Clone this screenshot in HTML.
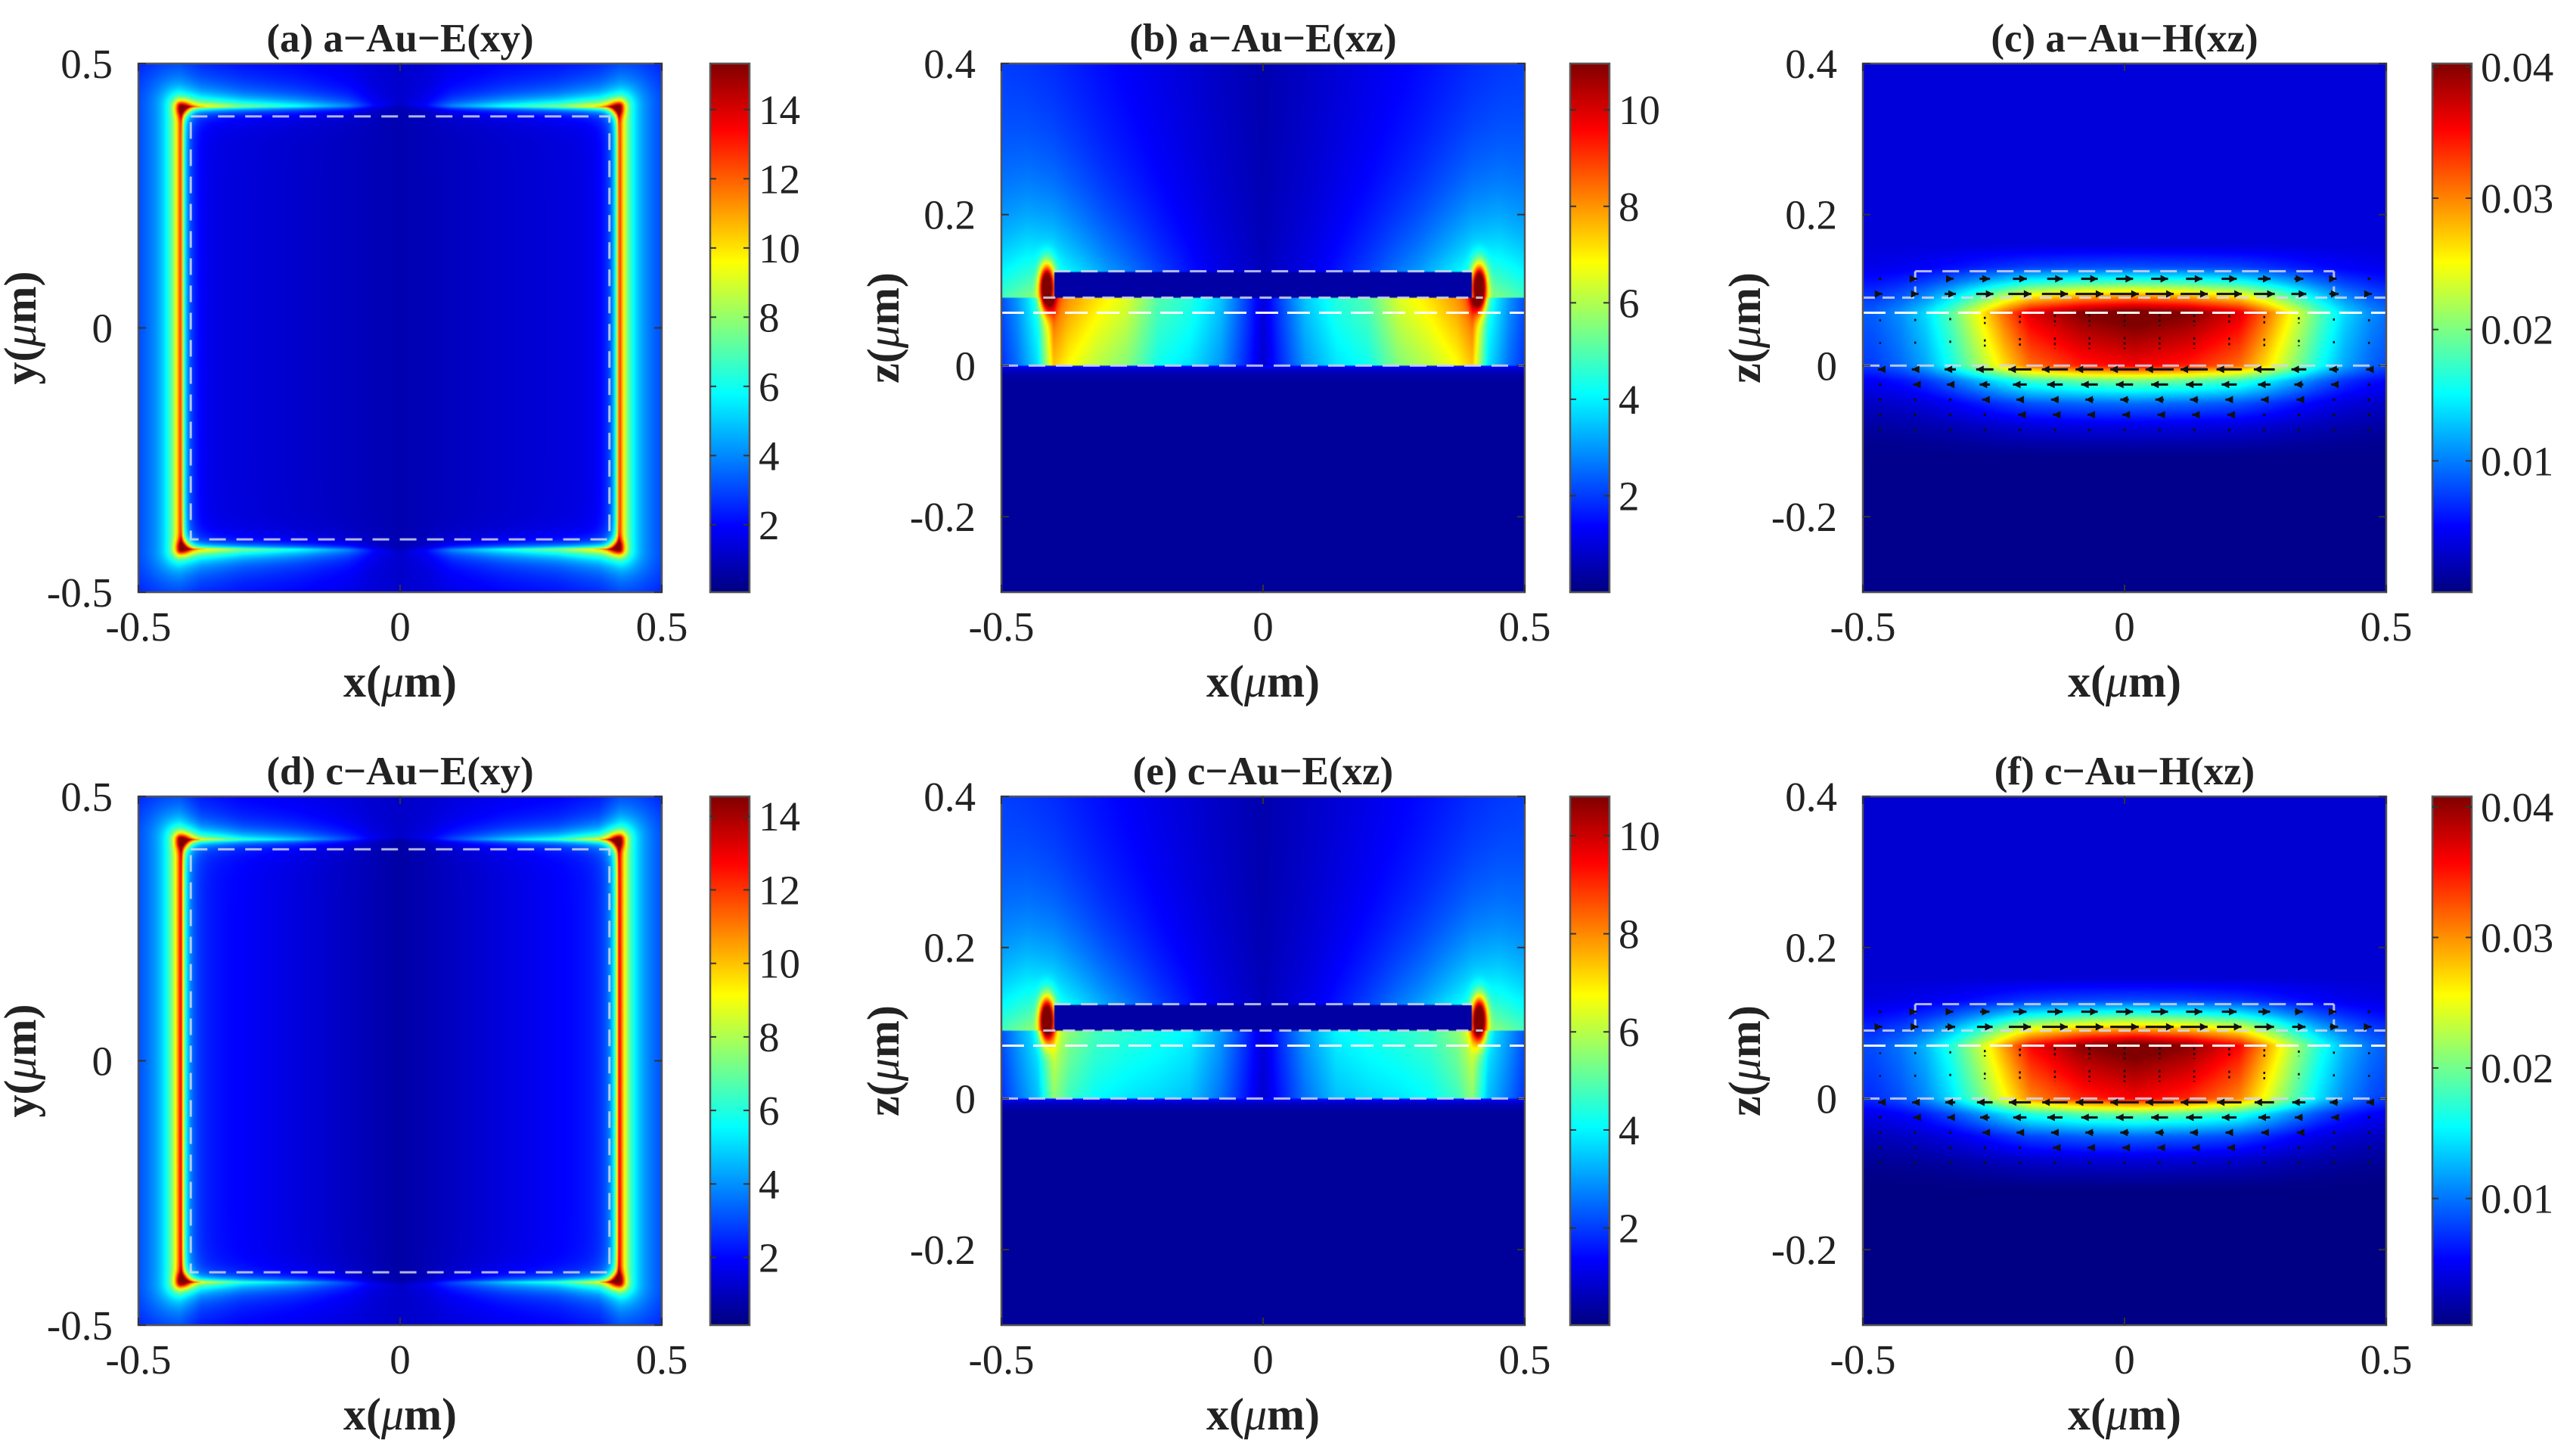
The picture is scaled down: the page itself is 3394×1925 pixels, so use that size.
<!DOCTYPE html>
<html><head><meta charset="utf-8">
<style>
html,body{margin:0;padding:0;background:#fff;}
#root{position:relative;width:3394px;height:1925px;overflow:hidden;background:#fff;}
canvas{position:absolute;}
svg{position:absolute;left:0;top:0;}
</style></head>
<body>
<div id="root"></div>
<script>
// ---- data ----
const xyTicks=[-0.5,0,0.5];
const xzTicksY=[-0.2,0,0.2,0.4];
const xTicks=[-0.5,0,0.5];
const cbTicksExy=[2,4,6,8,10,12,14];
const cbTicksExz=[2,4,6,8,10];
const cbTicksH=[0.01,0.02,0.03,0.04];
const cbMin=[0.05,0,0,0.16,0.02,0.0003];
const cbMax=[15.33,10.96,0.04025,14.54,10.8,0.0408];
const titles=["(a) a\u2212Au\u2212E(xy)","(b) a\u2212Au\u2212E(xz)","(c) a\u2212Au\u2212H(xz)","(d) c\u2212Au\u2212E(xy)","(e) c\u2212Au\u2212E(xz)","(f) c\u2212Au\u2212H(xz)"];
const edgeWeightX=[0,0.05,0.1,0.2,0.3,0.38,0.42];
const edgeWeightA=[0,0.08,0.25,0.42,0.55,0.75,1];
const edgeWeightD=[0,0.05,0.15,0.3,0.4,0.6,1];
const spacerX=[0,0.03,0.08,0.14,0.2,0.26,0.32,0.37,0.40,0.43,0.47,0.5];
const spacerB=[1,2,3.5,4.5,5,6.5,7.2,8,8.8,4.5,3,2.2];
const spacerE=[1,1.8,3,4,4.3,4.5,4.8,5.5,6.5,4,3,2.2];
const hProfX=[0,0.1,0.2,0.25,0.3,0.35,0.4,0.45,0.5];
const hProfC=[1,0.96,0.86,0.72,0.56,0.4,0.27,0.19,0.14];
const hProfF=[1,0.95,0.83,0.67,0.5,0.35,0.24,0.17,0.13];
const hProfZ=[-0.12,-0.08,-0.05,-0.02,0,0.07,0.09,0.11,0.13,0.16];
const hProfZv=[0,0.08,0.2,0.45,0.85,1,0.7,0.38,0.12,0];
const hPeak=[0.0385,0.039];
const quiverX=[-0.467,-0.4,-0.333,-0.267,-0.2,-0.133,-0.067,0,0.067,0.133,0.2,0.267,0.333,0.4,0.467];
const quiverZ=[0.115,0.095,0.06,0.03,-0.005,-0.025,-0.045,-0.065,-0.085];
const quiverU=[0.6,1,0,0,-1,-0.6,-0.3,-0.15,-0.08];

// ---- layout ----
const panelLefts=[183,1324,2463], rowTops=[84,1053], PW=692, PH=699;
const cbLefts=[939,2076,3216], CBW=52;
const FONT='"Liberation Serif", "Times New Roman", serif';
const root=document.getElementById('root');
const NS='http://www.w3.org/2000/svg';
const svg=document.createElementNS(NS,'svg');
svg.setAttribute('width','3394');svg.setAttribute('height','1925');



function interp(xs,vs,x){
  if(x<=xs[0])return vs[0];
  for(let i=1;i<xs.length;i++){ if(x<=xs[i]){const t=(x-xs[i-1])/(xs[i]-xs[i-1]);return vs[i-1]+t*(vs[i]-vs[i-1]);} }
  return vs[vs.length-1];
}
function cl(v){return v<0?0:v>1?1:v;}
function jet(t){t=cl(t);return [cl(1.5-Math.abs(4*t-3)),cl(1.5-Math.abs(4*t-2)),cl(1.5-Math.abs(4*t-1))];}
function sq(v){return v*v;}

function fieldXY(x,y,variant){
  const hs=0.42, ax=Math.abs(x), ay=Math.abs(y);
  const wArr=variant?edgeWeightD:edgeWeightA;
  const wH=interp(edgeWeightX,wArr,ax);
  let v;
  if(ax<hs&&ay<hs){
    const dv=hs-ax, dh=hs-ay;
    const base=variant?(0.7+1.6*ax/0.4):(0.8+0.8*ax/0.4);
    v=base+10*Math.exp(-dv/0.006)+3.5*Math.exp(-dv/0.018)+wH*(10*Math.exp(-dh/0.006)+3.5*Math.exp(-dh/0.018));
  } else {
    const dx=Math.max(ax-hs,0), dy=Math.max(ay-hs,0);
    let w=1, d;
    if(ay<hs){d=dx;} else if(ax<hs){d=dy;w=wH;} else {d=Math.hypot(dx,dy);}
    v=1.2+w*(7*Math.exp(-d/0.015)+4.5*Math.exp(-d/0.09));
  }
  v+=4*Math.exp(-(sq(ax-0.415)+sq(ay-0.415))/0.0002);
  return v;
}
function fieldXZ(x,z,variant){
  const ax=Math.abs(x);
  const spv=variant?spacerE:spacerB;
  let v;
  const inBar=(ax<0.4&&z>=0.09&&z<=0.125);
  if(z<0){ v=0.3+1.3*Math.exp(z/0.006); }
  else if(inBar){ v=0.4; }
  else if(z<0.09){ v=interp(spacerX,spv,ax)*(0.85+0.15*z/0.09); }
  else {
    const k=interp([0,0.1,0.2,0.3,0.4,0.45,0.5],[0.2,0.6,1.4,2.4,3.8,3.8,3],ax);
    v=0.5+1.3*(ax/0.5)+k*Math.exp(-(z-0.09)/0.12);
  }
  if(!inBar&&z>=0){
    v+=9*Math.exp(-sq((ax-0.413)/0.014)-sq((z-0.105)/0.028));
  }
  return v;
}
function fieldH(x,z,variant){
  const px=interp(hProfX,variant?hProfF:hProfC,Math.abs(x-0.02));
  const pz=interp(hProfZ,hProfZv,z);
  const bg=interp([-0.1,0,0.1],[0.0005,0.0028,0.0036],z);
  return bg+hPeak[variant]*px*pz;
}

function addText(str,x,y,size,opts){
  const t=document.createElementNS(NS,'text');
  t.setAttribute('x',x);t.setAttribute('y',y);
  t.setAttribute('font-size',size);
  t.setAttribute('font-family',FONT);
  t.setAttribute('fill','#222');
  if(opts&&opts.bold)t.setAttribute('font-weight','bold');
  t.setAttribute('text-anchor',(opts&&opts.anchor)||'middle');
  t.textContent=str;
  svg.appendChild(t);
  return t;
}
function addLine(x1,y1,x2,y2,stroke,w,dash){
  const l=document.createElementNS(NS,'line');
  l.setAttribute('x1',x1);l.setAttribute('y1',y1);l.setAttribute('x2',x2);l.setAttribute('y2',y2);
  l.setAttribute('stroke',stroke);l.setAttribute('stroke-width',w);
  if(dash)l.setAttribute('stroke-dasharray',dash);
  svg.appendChild(l);return l;
}
function addAxisLabel(prefix,x,y,rot){
  const t=document.createElementNS(NS,'text');
  t.setAttribute('x',x);t.setAttribute('y',y);
  t.setAttribute('font-size',60);t.setAttribute('font-weight','bold');
  t.setAttribute('font-family',FONT);
  t.setAttribute('fill','#222');
  t.setAttribute('text-anchor','middle');
  if(rot)t.setAttribute('transform','rotate(-90 '+x+' '+y+')');
  const s1=document.createElementNS(NS,'tspan');s1.textContent=prefix+'(';
  const s2=document.createElementNS(NS,'tspan');s2.setAttribute('font-style','italic');s2.setAttribute('font-weight','normal');s2.textContent='\u03bc';
  const s3=document.createElementNS(NS,'tspan');s3.textContent='m)';
  t.appendChild(s1);t.appendChild(s2);t.appendChild(s3);
  svg.appendChild(t);return t;
}

// gradient def
const defs=document.createElementNS(NS,'defs');
const grad=document.createElementNS(NS,'linearGradient');
grad.setAttribute('id','jet');grad.setAttribute('x1','0');grad.setAttribute('y1','1');grad.setAttribute('x2','0');grad.setAttribute('y2','0');
[[0,'#000080'],[0.125,'#0000ff'],[0.375,'#00ffff'],[0.625,'#ffff00'],[0.875,'#ff0000'],[1,'#800000']].forEach(s=>{
  const st=document.createElementNS(NS,'stop');st.setAttribute('offset',s[0]);st.setAttribute('stop-color',s[1]);grad.appendChild(st);
});
defs.appendChild(grad);svg.appendChild(defs);

for(let p=0;p<6;p++){
  const col=p%3,row=Math.floor(p/3),variant=row;
  const L=panelLefts[col],T=rowTops[row];
  const isXY=col===0, isH=col===2;
  const yr=isXY?[-0.5,0.5]:[-0.3,0.4];
  const xr=[-0.5,0.5];
  const sx=v=>L+(v-xr[0])/(xr[1]-xr[0])*PW;
  const sy=v=>T+PH-(v-yr[0])/(yr[1]-yr[0])*PH;
  const cmin=cbMin[p],cmax=cbMax[p];
  // heatmap
  const cv=document.createElement('canvas');
  const RW=346,RH=350;
  cv.width=RW;cv.height=RH;
  cv.style.left=L+'px';cv.style.top=T+'px';cv.style.width=PW+'px';cv.style.height=PH+'px';
  
  
  const ctx=cv.getContext('2d');const img=ctx.createImageData(RW,RH);
  for(let j=0;j<RH;j++){
    const yv=yr[1]-(j+0.5)/RH*(yr[1]-yr[0]);
    for(let i=0;i<RW;i++){
      const xv=xr[0]+(i+0.5)/RW*(xr[1]-xr[0]);
      const v=isXY?fieldXY(xv,yv,variant):isH?fieldH(xv,yv,variant):fieldXZ(xv,yv,variant);
      const cc=jet((v-cmin)/(cmax-cmin));
      const k=(j*RW+i)*4;
      img.data[k]=cc[0]*255;img.data[k+1]=cc[1]*255;img.data[k+2]=cc[2]*255;img.data[k+3]=255;
    }
  }
  ctx.putImageData(img,0,0);
  root.appendChild(cv);

  // dashed structure outlines
  const dg='rgba(210,215,240,0.85)';
  if(isXY){
    const rc=document.createElementNS(NS,'rect');
    rc.setAttribute('x',sx(-0.4));rc.setAttribute('y',sy(0.4));rc.setAttribute('width',sx(0.4)-sx(-0.4));rc.setAttribute('height',sy(-0.4)-sy(0.4));
    rc.setAttribute('fill','none');rc.setAttribute('stroke',dg);rc.setAttribute('stroke-width',3);rc.setAttribute('stroke-dasharray','22 14');
    
    
    svg.appendChild(rc);
  } else {
    const topLine=addLine(sx(-0.4),sy(0.125),sx(0.4),sy(0.125),dg,3,'22 14');
    
    
    if(isH){
      addLine(sx(-0.4),sy(0.125),sx(-0.4),sy(0.09),dg,3,'12 8');
      addLine(sx(0.4),sy(0.125),sx(0.4),sy(0.09),dg,3,'12 8');
    }
    addLine(sx(isH?-0.5:-0.42),sy(0.09),sx(isH?0.5:0.42),sy(0.09),dg,3,'16 10');
    const spl=addLine(sx(-0.5),sy(0.07),sx(0.5),sy(0.07),'rgba(255,255,255,0.95)',3,'30 12');
    
    
    const sbl=addLine(sx(-0.5),sy(0),sx(0.5),sy(0),dg,3,'22 14');
    
    
  }
  // quiver
  if(isH){
    for(let r=0;r<quiverZ.length;r++){
      for(let c=0;c<quiverX.length;c++){
        const xq=quiverX[c],zq=quiverZ[r];
        const mag=interp(hProfX,variant?hProfF:hProfC,Math.abs(xq-0.02));
        const X=sx(xq),Y=sy(zq);
        const u=quiverU[r]*mag;
        if(Math.abs(u)>0.12){
          const len=u*38;
          const a=addLine(X-len/2,Y,X+len/2,Y,'#111',3);
          
          
          const hx=X+len/2,d=Math.sign(len);
          const h=document.createElementNS(NS,'path');
          h.setAttribute('d','M'+hx+' '+Y+' L'+(hx-d*10)+' '+(Y-5)+' L'+(hx-d*10)+' '+(Y+5)+' Z');
          h.setAttribute('fill','#111');
          
          
          svg.appendChild(h);
        } else if(quiverU[r]===0){
          const vl=addLine(X,Y-8*mag,X,Y+8*mag,'#111',2.5,'3 4');
          
          
        } else {
          const dot=document.createElementNS(NS,'circle');
          dot.setAttribute('cx',X);dot.setAttribute('cy',Y);dot.setAttribute('r',1.8);dot.setAttribute('fill','#111');
          
          
          svg.appendChild(dot);
        }
      }
    }
  }
  // axes box
  const box=document.createElementNS(NS,'rect');
  box.setAttribute('x',L);box.setAttribute('y',T);box.setAttribute('width',PW);box.setAttribute('height',PH);
  box.setAttribute('fill','none');box.setAttribute('stroke','#555');box.setAttribute('stroke-width',2.5);
  
  
  svg.appendChild(box);
  xTicks.forEach(v=>{
    addLine(sx(v),T+PH,sx(v),T+PH-10,'#333',2);
    addLine(sx(v),T,sx(v),T+10,'#333',2);
    const tl=addText(v===0?'0':String(v),sx(v),T+PH+64,55);
    
    
  });
  (isXY?xyTicks:xzTicksY).forEach(v=>{
    addLine(L,sy(v),L+10,sy(v),'#333',2);
    addLine(L+PW,sy(v),L+PW-10,sy(v),'#333',2);
    const tl=addText(v===0?'0':String(v),L-34,sy(v)+19,55,{anchor:'end'});
    
    
  });
  const tt=addText(titles[p],L+PW/2,T-16,53,{bold:true});
  
  
  const xl=addAxisLabel('x',L+PW/2,T+PH+138,false);
  
  
  const yl=addAxisLabel(isXY?'y':'z',L-136,T+PH/2,true);
  
  

  // colorbar
  const CL=cbLefts[col];
  const cb=document.createElementNS(NS,'rect');
  cb.setAttribute('x',CL);cb.setAttribute('y',T);cb.setAttribute('width',CBW);cb.setAttribute('height',PH);
  cb.setAttribute('fill','url(#jet)');cb.setAttribute('stroke','#555');cb.setAttribute('stroke-width',2.5);
  
  
  svg.appendChild(cb);
  const cticks=isXY?cbTicksExy:isH?cbTicksH:cbTicksExz;
  cticks.forEach(v=>{
    const y=T+PH-(v-cmin)/(cmax-cmin)*PH;
    addLine(CL,y,CL+8,y,'#333',2);
    addLine(CL+CBW,y,CL+CBW-8,y,'#333',2);
    const tl=addText(String(v),CL+CBW+12,y+19,55,{anchor:'start'});
    
    
  });
}
root.appendChild(svg);
</script>
</body></html>
